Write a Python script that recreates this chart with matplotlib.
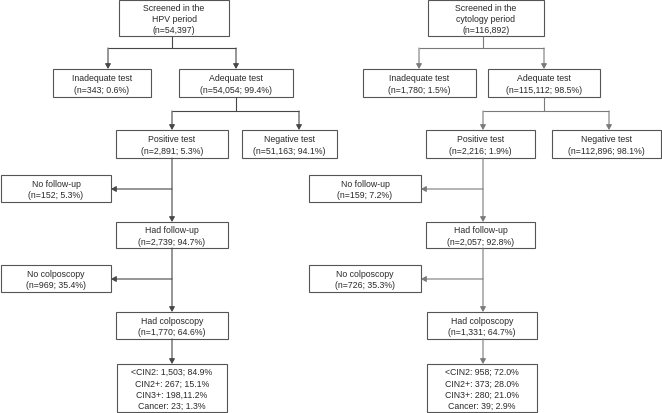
import matplotlib
matplotlib.use("Agg")
import matplotlib.pyplot as plt
from matplotlib.patches import Rectangle

# ---------------- data ----------------
periods = ["HPV", "cytology"]
screened_n = ["54,397", "116,892"]
node_titles = ["Inadequate test", "Adequate test", "Positive test", "Negative test",
               "No follow-up", "Had follow-up", "No colposcopy", "Had colposcopy"]
hpv_n = ["343", "54,054", "2,891", "51,163", "152", "2,739", "969", "1,770"]
hpv_pct = ["0.6%", "99.4%", "5.3%", "94.1%", "5.3%", "94.7%", "35.4%", "64.6%"]
cyto_n = ["1,780", "115,112", "2,216", "112,896", "159", "2,057", "726", "1,331"]
cyto_pct = ["1.5%", "98.5%", "1.9%", "98.1%", "7.2%", "92.8%", "35.3%", "64.7%"]
hpv_outcomes = ["<CIN2: 1,503; 84.9%", "CIN2+: 267; 15.1%", "CIN3+: 198,11.2%", "Cancer: 23; 1.3%"]
cyto_outcomes = ["<CIN2: 958; 72.0%", "CIN2+: 373; 28.0%", "CIN3+: 280; 21.0%", "Cancer: 39; 2.9%"]

# ---------------- layout (pixels) ----------------
W, H = 662, 414
plt.rcParams['font.family'] = ['Liberation Sans', 'DejaVu Sans']
FS = 6.3
EDGE = "#555555"

fig = plt.figure(figsize=(W / 100, H / 100), dpi=100)
ax = fig.add_axes([0, 0, 1, 1])
ax.set_xlim(0, W)
ax.set_ylim(H, 0)
ax.axis("off")

def box(x0, y0, x1, y1, text):
    ax.add_patch(Rectangle((x0, y0), x1 - x0, y1 - y0, fill=False, ec=EDGE, lw=0.8))
    ax.text((x0 + x1) / 2, (y0 + y1) / 2 + 0.5, text, ha="center", va="center",
            fontsize=FS, color="#2a2a2a", linespacing=1.32)

def line(pts, color):
    xs, ys = zip(*pts)
    ax.plot(xs, ys, color=color, lw=0.8, solid_capstyle="butt")

def arrow(x0, y0, x1, y1, color):
    ax.annotate("", xy=(x1, y1), xytext=(x0, y0),
                arrowprops=dict(arrowstyle="-|>,head_length=0.3,head_width=0.17",
                                color=color, lw=0.8, shrinkA=0, shrinkB=0))

panels = [
    dict(period=periods[0], sn=screened_n[0], n=hpv_n, pct=hpv_pct, out=hpv_outcomes,
         top=(119, 229), cx=172, inad=(53, 151), inad_ax=108, adeq=(179, 293), adeq_cx=236,
         pos=(116, 228), neg=(242, 337), neg_ax=299, side=(1, 111),
         colp=(116, 228), res=(117, 227), lc="#474747"),
    dict(period=periods[1], sn=screened_n[1], n=cyto_n, pct=cyto_pct, out=cyto_outcomes,
         top=(428, 544), cx=483, inad=(363, 476), inad_ax=419, adeq=(488, 600), adeq_cx=544,
         pos=(426, 535), neg=(552, 661), neg_ax=609, side=(309, 421),
         colp=(427, 537), res=(427, 537), lc="#7a7a7a"),
]

for p in panels:
    n, pct, lc = p["n"], p["pct"], p["lc"]
    lab = [f"{t}\n(n={a}; {b})" for t, a, b in zip(node_titles, n, pct)]
    box(p["top"][0], 1, p["top"][1], 37,
        f"Screened in the\n{p['period']} period\n(n={p['sn']})")
    box(p["inad"][0], 70, p["inad"][1], 98, lab[0])
    box(p["adeq"][0], 70, p["adeq"][1], 98, lab[1])
    box(p["pos"][0], 131, p["pos"][1], 159, lab[2])
    box(p["neg"][0], 131, p["neg"][1], 159, lab[3])
    box(p["side"][0], 176, p["side"][1], 203, lab[4])
    box(p["pos"][0], 223, p["pos"][1], 249, lab[5])
    box(p["side"][0], 266, p["side"][1], 293, lab[6])
    box(p["colp"][0], 313, p["colp"][1], 340, lab[7])
    box(p["res"][0], 365, p["res"][1], 413, "\n".join(p["out"]))

    cx = p["cx"]
    # top split
    line([(cx, 37), (cx, 49)], lc)
    line([(p["inad_ax"], 49), (p["adeq_cx"], 49)], lc)
    arrow(p["inad_ax"], 49, p["inad_ax"], 70, lc)
    arrow(p["adeq_cx"], 49, p["adeq_cx"], 70, lc)
    # adequate split
    line([(p["adeq_cx"], 98), (p["adeq_cx"], 112)], lc)
    line([(cx, 112), (p["neg_ax"], 112)], lc)
    arrow(cx, 112, cx, 131, lc)
    arrow(p["neg_ax"], 112, p["neg_ax"], 131, lc)
    # positive -> follow-up
    arrow(cx, 159, cx, 223, lc)
    arrow(cx, 190, p["side"][1], 190, lc)
    # follow-up -> colposcopy
    arrow(cx, 249, cx, 313, lc)
    arrow(cx, 280, p["side"][1], 280, lc)
    # colposcopy -> results
    arrow(cx, 340, cx, 365, lc)

fig.savefig("out.png", dpi=100, facecolor="white")
